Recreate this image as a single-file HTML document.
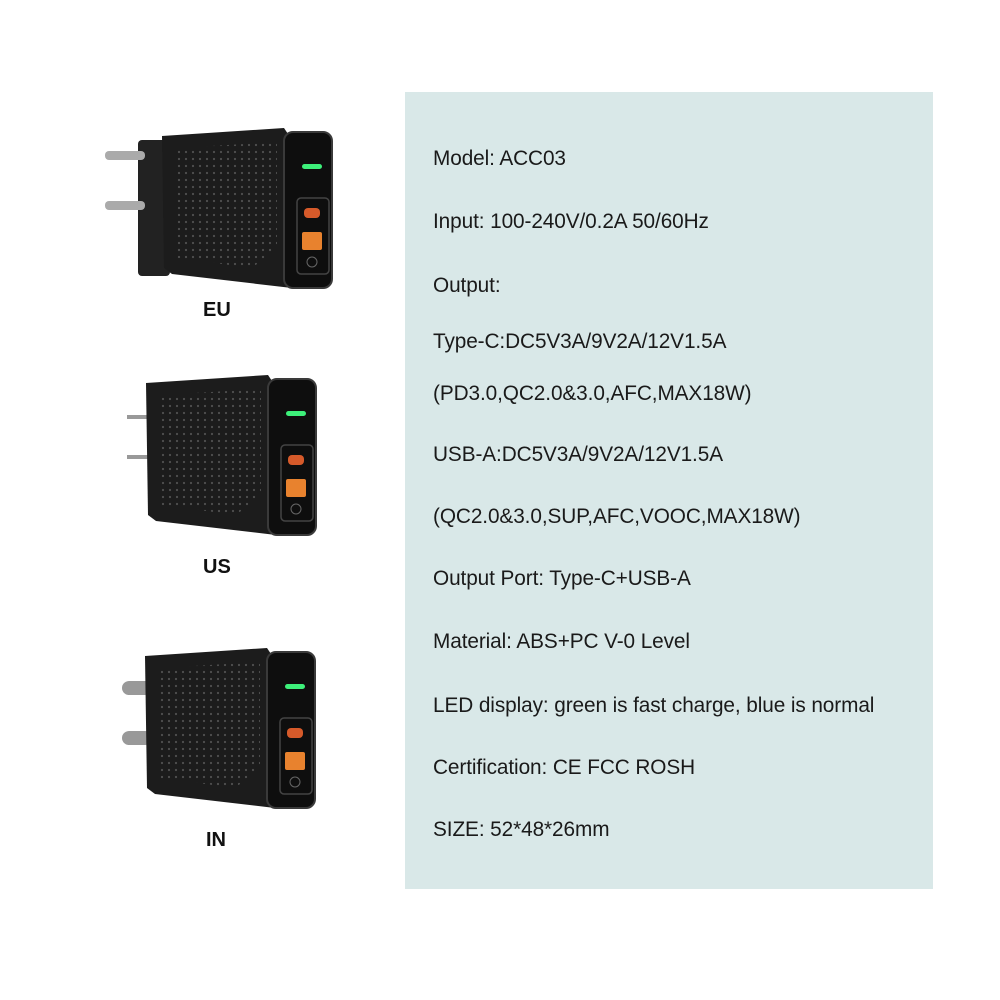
<!DOCTYPE html>
<html><head><meta charset="utf-8"><style>
body{margin:0;background:#fff;width:1000px;height:1000px;position:relative;overflow:hidden;font-family:"Liberation Sans","DejaVu Sans",sans-serif}
.panel{position:absolute;left:405px;top:92px;width:528px;height:797px;background:#d9e8e8}
.t{position:absolute;left:433px;font-size:20.8px;color:#1a1a1a;line-height:1;white-space:nowrap;letter-spacing:-0.1px}
.lbl{position:absolute;font-weight:bold;font-size:20px;color:#111}
svg{position:absolute;left:0;top:0}
</style></head><body>
<div class="panel"></div>
<div class="t" style="top:149px">Model: ACC03</div>
<div class="t" style="top:212px">Input: 100-240V/0.2A 50/60Hz</div>
<div class="t" style="top:276px">Output:</div>
<div class="t" style="top:332px">Type-C:DC5V3A/9V2A/12V1.5A</div>
<div class="t" style="top:384px">(PD3.0,QC2.0&amp;3.0,AFC,MAX18W)</div>
<div class="t" style="top:445px">USB-A:DC5V3A/9V2A/12V1.5A</div>
<div class="t" style="top:507px">(QC2.0&amp;3.0,SUP,AFC,VOOC,MAX18W)</div>
<div class="t" style="top:569px">Output Port: Type-C+USB-A</div>
<div class="t" style="top:632px">Material: ABS+PC V-0 Level</div>
<div class="t" style="top:696px">LED display: green is fast charge, blue is normal</div>
<div class="t" style="top:758px">Certification: CE FCC ROSH</div>
<div class="t" style="top:820px">SIZE: 52*48*26mm</div>
<div class="lbl" style="left:203px;top:299px">EU</div>
<div class="lbl" style="left:203px;top:556px">US</div>
<div class="lbl" style="left:206px;top:829px">IN</div>
<svg width="1000" height="1000">
<defs>
<pattern id="dots" width="7" height="7" patternUnits="userSpaceOnUse"><circle cx="3" cy="3" r="1.1" fill="#666"/></pattern>
<g id="ch">
<polygon points="0,8 122,0 130,12 130,160 10,146 2,140" fill="#1c1c1c"/>
<polygon points="15,20 115,14 115,120 90,140 15,130" fill="url(#dots)" opacity="0.7"/>
<rect x="122" y="4" width="48" height="156" rx="9" fill="#0e0e0e" stroke="#3a3a3a" stroke-width="2"/>
<rect x="140" y="36" width="20" height="5" rx="2.5" fill="#3df07a"/>
<rect x="135" y="70" width="32" height="76" rx="4" fill="none" stroke="#444" stroke-width="1.5"/>
<rect x="142" y="80" width="16" height="10" rx="4" fill="#d65a2a"/>
<rect x="140" y="104" width="20" height="18" rx="2" fill="#e8822e"/>
<circle cx="150" cy="134" r="5" fill="none" stroke="#666"/>
</g>
</defs>
<rect x="138" y="140" width="32" height="136" rx="4" fill="#222"/>
<rect x="105" y="151" width="40" height="9" rx="4" fill="#aaa"/>
<rect x="105" y="201" width="40" height="9" rx="4" fill="#aaa"/>
<use href="#ch" x="162" y="128"/>
<rect x="127" y="415" width="22" height="4" fill="#999"/>
<rect x="127" y="455" width="22" height="4" fill="#999"/>
<use href="#ch" x="146" y="375"/>
<rect x="122" y="681" width="30" height="14" rx="7" fill="#999"/>
<rect x="122" y="731" width="30" height="14" rx="7" fill="#999"/>
<use href="#ch" x="145" y="648"/>
</svg>
</body></html>
